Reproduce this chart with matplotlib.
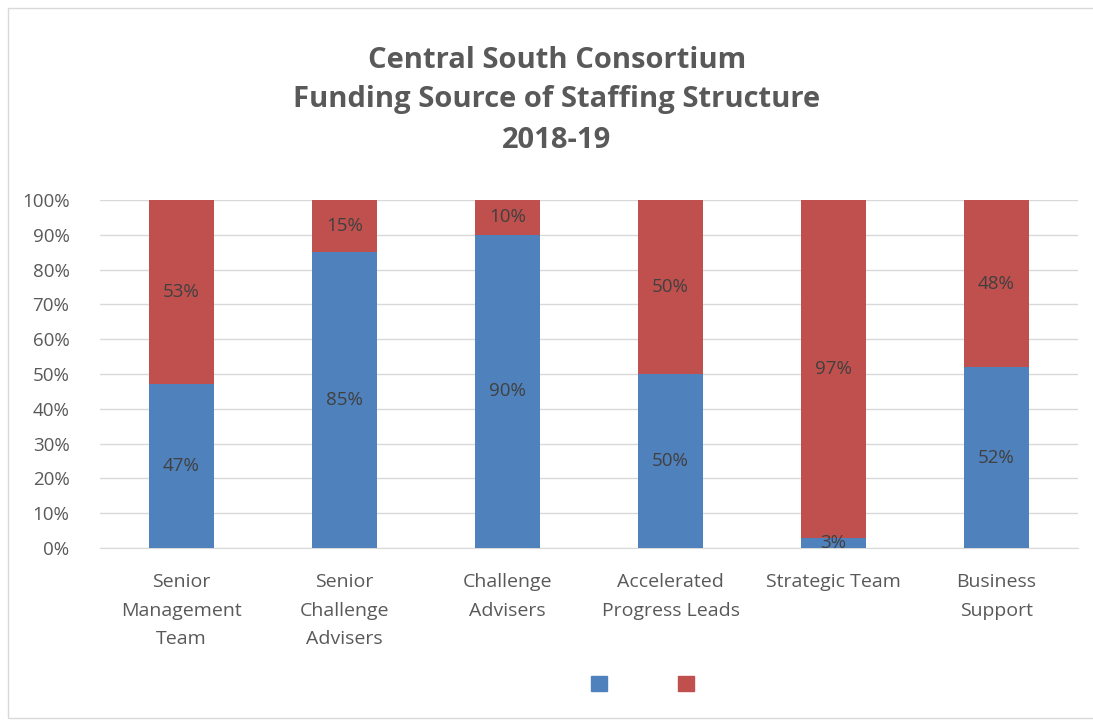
import numpy as np
import matplotlib.pyplot as plt
from matplotlib.patches import Rectangle, Patch

# data
categories = ['Senior\nManagement\nTeam', 'Senior\nChallenge\nAdvisers', 'Challenge\nAdvisers',
              'Accelerated\nProgress Leads', 'Strategic Team', 'Business\nSupport']
blue_vals = [47, 85, 90, 50, 3, 52]
red_vals = [53, 15, 10, 50, 97, 48]

blue = '#4f81bd'
red = '#c0504d'
txt = '#595959'

plt.rcParams['font.family'] = ['Open Sans', 'DejaVu Sans']

fig = plt.figure(figsize=(10.93, 7.22), dpi=100)
ax = fig.add_axes([100/1093, 1 - 548/722, 978/1093, 348/722])

x = np.arange(len(categories))
b1 = ax.bar(x, blue_vals, width=0.4, color=blue, zorder=3)
b2 = ax.bar(x, red_vals, width=0.4, bottom=blue_vals, color=red, zorder=3)

for i in range(len(x)):
    ax.text(x[i], blue_vals[i] / 2, '%d%%' % blue_vals[i], ha='center', va='center',
            fontsize=13.5, color='#404040', zorder=4)
    ax.text(x[i], blue_vals[i] + red_vals[i] / 2, '%d%%' % red_vals[i], ha='center', va='center',
            fontsize=13.5, color='#404040', zorder=4)

ax.set_xlim(-0.5, len(x) - 0.5)
ax.set_ylim(0, 100)
ax.set_yticks(range(0, 101, 10))
ax.set_yticklabels(['%d%%' % v for v in range(0, 101, 10)])
ax.set_xticks(x)
ax.set_xticklabels(categories, linespacing=1.75)
ax.tick_params(axis='both', length=0, labelsize=13.5, labelcolor=txt)
ax.tick_params(axis='x', labelsize=14, pad=18)
ax.tick_params(axis='y', pad=22)
ax.grid(axis='y', color='#d9d9d9', linewidth=1, zorder=0)
for s in ['top', 'right', 'left']:
    ax.spines[s].set_visible(False)
ax.spines['bottom'].set_color('#d9d9d9')

fig.text(557/1093, 1 - 100/722, 'Central South Consortium\nFunding Source of Staffing Structure\n2018-19',
         ha='center', va='center', fontsize=21, fontweight='bold', color=txt, linespacing=1.5)

fig.legend(handles=[Patch(color=blue), Patch(color=red)], labels=[' ', ' '], ncol=2,
           loc='center', bbox_to_anchor=(652/1093, 1 - 685/722), frameon=False,
           handlelength=0.9, handleheight=0.9, columnspacing=2.9, fontsize=13)

# chart border
fig.patches.append(Rectangle((8/1093, 4/722), 1.0, 1 - 12/722, transform=fig.transFigure,
                             fill=False, edgecolor='#d9d9d9', linewidth=1))

fig.savefig('out.png', dpi=100)
